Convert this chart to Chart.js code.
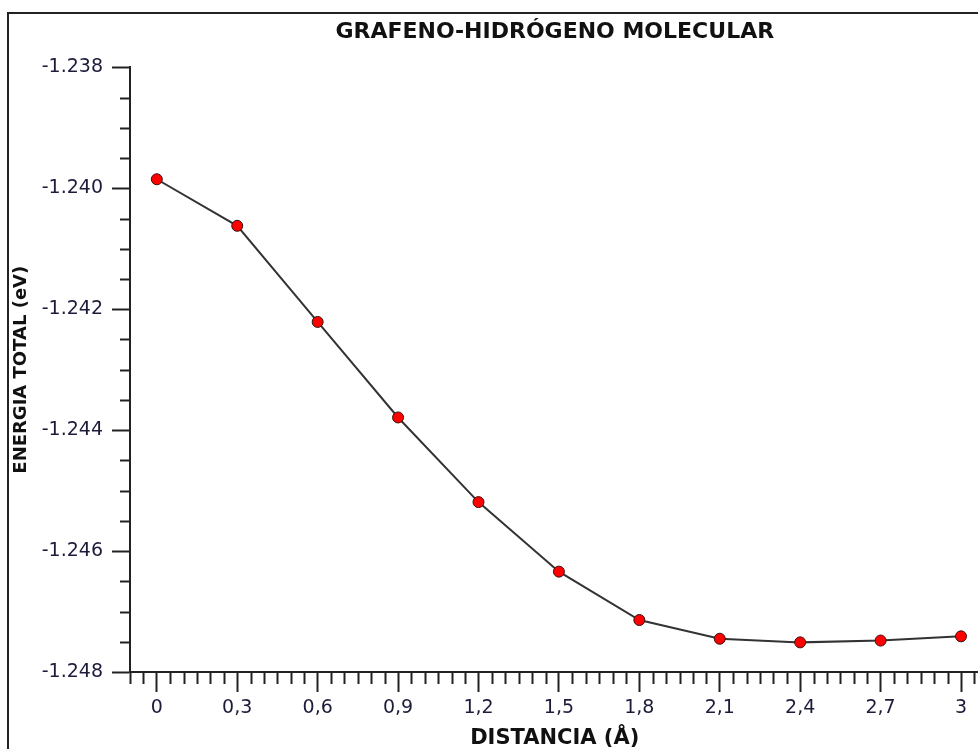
<!DOCTYPE html>
<html>
<head>
<meta charset="utf-8">
<script src="https://cdn.jsdelivr.net/npm/chart.js@4"></script>
<style>
  body { margin: 0; background: #fff; overflow: hidden; }
  #wrap { position: relative; width: 978px; height: 749px; overflow: hidden; }
  #marco { position: absolute; left: 7px; top: 12px; width: 980px; height: 760px;
           border-left: 2px solid #222; border-top: 2px solid #222; pointer-events: none; }
</style>
</head>
<body>
<div id="wrap">
  <canvas id="grafico" width="986" height="749"></canvas>
  <div id="marco"></div>
</div>
<script>
const distancias = [0, 0.3, 0.6, 0.9, 1.2, 1.5, 1.8, 2.1, 2.4, 2.7, 3];
const energias = [-1.23985, -1.24062, -1.24221, -1.24379, -1.24519, -1.24634,
                  -1.24714, -1.24745, -1.24751, -1.24748, -1.24741];
const xTicks = [0, 0.3, 0.6, 0.9, 1.2, 1.5, 1.8, 2.1, 2.4, 2.7, 3];
const yTicks = [-1.248, -1.246, -1.244, -1.242, -1.240, -1.238];

const fonte = "'DejaVu Sans', Verdana, sans-serif";
const corEixo = "#222";

// ticks menores (sem rotulo)
const ticksMenores = {
  id: "ticksMenores",
  afterDraw(chart) {
    const ctx = chart.ctx;
    const x = chart.scales.x, y = chart.scales.y;
    ctx.save();
    ctx.strokeStyle = corEixo;
    ctx.lineWidth = 2;
    ctx.beginPath();
    for (let i = -2; i * 0.05 <= x.max + 1e-9; i++) {
      if (i % 6 === 0 || i * 0.05 < x.min) continue;
      const px = Math.round(x.getPixelForValue(i * 0.05)) + 0.5;
      ctx.moveTo(px, x.top);
      ctx.lineTo(px, x.top + 12);
    }
    for (let i = 0; i <= 20; i++) {
      if (i % 4 === 0) continue;
      const py = Math.round(y.getPixelForValue(-1.248 + i * 0.0005)) + 0.5;
      ctx.moveTo(y.right - 10, py);
      ctx.lineTo(y.right, py);
    }
    ctx.stroke();
    ctx.restore();
  }
};

new Chart(document.getElementById("grafico"), {
  type: "line",
  data: {
    datasets: [{
      data: distancias.map((d, i) => ({ x: d, y: energias[i] })),
      borderColor: "#333",
      borderWidth: 2,
      pointBackgroundColor: "#ff0000",
      pointBorderColor: "#3a1010",
      pointBorderWidth: 1,
      pointRadius: 5.5,
      tension: 0
    }]
  },
  options: {
    responsive: false,
    animation: false,
    layout: { padding: 0 },
    plugins: {
      legend: { display: false },
      tooltip: { enabled: false },
      title: {
        display: true,
        fullSize: false,
        text: "GRAFENO-HIDRÓGENO MOLECULAR",
        color: "#111",
        font: { family: fonte, size: 22, weight: "bold", lineHeight: 1.2 },
        padding: { top: 19, bottom: 22 }
      }
    },
    scales: {
      x: {
        type: "linear",
        min: -0.1,
        max: 3.069,
        afterBuildTicks: s => { s.ticks = xTicks.map(v => ({ value: v })); },
        afterFit: s => { s.height = 77; },
        grid: { drawOnChartArea: false, tickLength: 20, tickColor: corEixo, tickWidth: 2 },
        border: { color: corEixo, width: 2 },
        ticks: {
          color: "#1c1c3a",
          font: { family: fonte, size: 19 },
          padding: 5,
          maxRotation: 0,
          callback: v => String(v).replace(".", ",")
        },
        title: {
          display: true,
          text: "DISTANCIA (Å)",
          color: "#111",
          font: { family: fonte, size: 21, weight: "bold", lineHeight: 1 },
          padding: 0
        }
      },
      y: {
        min: -1.248,
        max: -1.238,
        afterBuildTicks: s => { s.ticks = yTicks.map(v => ({ value: v })); },
        afterFit: s => { s.width = 130; },
        grid: { drawOnChartArea: false, tickLength: 18, tickColor: corEixo, tickWidth: 2 },
        border: { color: corEixo, width: 2 },
        ticks: {
          color: "#1c1c3a",
          font: { family: fonte, size: 19 },
          padding: 9,
          callback: v => v.toFixed(3)
        },
        title: {
          display: true,
          text: "ENERGIA TOTAL (eV)",
          color: "#111",
          font: { family: fonte, size: 18, weight: "bold", lineHeight: 1.2 },
          padding: { top: 11, bottom: 0 }
        }
      }
    }
  },
  plugins: [ticksMenores]
});
</script>
</body>
</html>
